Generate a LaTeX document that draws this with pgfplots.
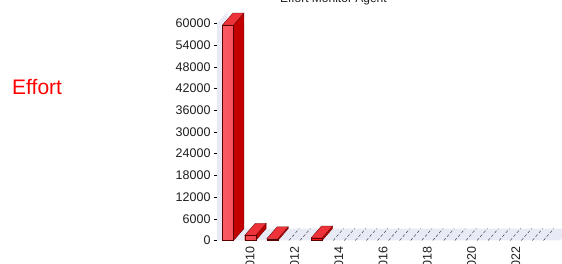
\documentclass[border=0pt]{standalone}
\usepackage{pgfplots}
\pgfplotsset{compat=1.18}
\usepackage{pgfplotstable}
\usepackage{fontspec}
\setmainfont{Liberation Sans}
\definecolor{floorc}{RGB}{232,234,246}
\definecolor{frontL}{RGB}{248,90,100}
\definecolor{frontM}{RGB}{252,30,36}
\definecolor{frontR}{RGB}{245,15,20}
\definecolor{sidec}{RGB}{195,0,0}
\definecolor{topc}{RGB}{238,50,58}
\definecolor{edgec}{RGB}{90,0,0}
\definecolor{labc}{RGB}{30,30,30}
\pgfplotstableread{
year value
2009 59600
2010 1400
2011 500
2012 0
2013 700
2014 0
2015 0
2016 0
2017 0
2018 0
2019 0
2020 0
2021 0
2022 0
2023 0
}\effort
\begin{document}
\begin{tikzpicture}
\useasboundingbox (0pt,0pt) rectangle (562pt,264pt);
\node[anchor=base west, text=red, font=\fontsize{21}{24}\selectfont, inner sep=0pt] at (12pt,169pt) {Effort};
\node[anchor=base west, text=labc, font=\fontsize{12}{14}\selectfont, inner sep=0pt] at (280pt,261.5pt) {Effort Monitor Agent};
\begin{axis}[
  at={(217pt,23.5pt)}, anchor=south west,
  scale only axis, width=343pt, height=217pt,
  xmin=2008.5, xmax=2024, ymin=0, ymax=60000,
  clip=false,
  axis y line*=left, axis x line*=bottom,
  x axis line style={draw=none},
  y axis line style={draw=gray, line width=0.4pt},
  xtick={2010,2012,...,2022},
  xticklabels={2010,2012,2014,2016,2018,2020,2022},
  xtick style={draw=none},
  xticklabel style={rotate=90, anchor=east, font=\fontsize{12.5}{14}\selectfont, text=labc},
  ytick={0,6000,...,60000},
  scaled y ticks=false,
  yticklabel style={/pgf/number format/1000 sep={}, /pgf/number format/assume math mode=true, font=\fontsize{12.5}{14}\selectfont, text=labc},
  ytick style={draw=black, line width=0.4pt},
  tick align=outside, major tick length=3pt,
]
% floor and left wall
\addplot[fill=floorc, draw=none] coordinates {(2008.5,0) (2024,0) (2024.47,3300) (2008.97,3300)} --cycle;
\addplot[fill=floorc, draw=none] coordinates {(2008.5,0) (2008.97,3300) (2008.97,63300) (2008.5,60000)} --cycle;
% flat (zero) bars outlines
\addplot[draw=black!80, densely dashed, line width=0.4pt, unbounded coords=jump] coordinates {
(2011.75,0) (2012.22,3300) (2012,nan) (2012.25,0) (2012.72,3300) (2012,nan)
(2013.75,0) (2014.22,3300) (2014,nan) (2014.25,0) (2014.72,3300) (2014,nan)
(2014.75,0) (2015.22,3300) (2015,nan) (2015.25,0) (2015.72,3300) (2015,nan)
(2015.75,0) (2016.22,3300) (2016,nan) (2016.25,0) (2016.72,3300) (2016,nan)
(2016.75,0) (2017.22,3300) (2017,nan) (2017.25,0) (2017.72,3300) (2017,nan)
(2017.75,0) (2018.22,3300) (2018,nan) (2018.25,0) (2018.72,3300) (2018,nan)
(2018.75,0) (2019.22,3300) (2019,nan) (2019.25,0) (2019.72,3300) (2019,nan)
(2019.75,0) (2020.22,3300) (2020,nan) (2020.25,0) (2020.72,3300) (2020,nan)
(2020.75,0) (2021.22,3300) (2021,nan) (2021.25,0) (2021.72,3300) (2021,nan)
(2021.75,0) (2022.22,3300) (2022,nan) (2022.25,0) (2022.72,3300) (2022,nan)
(2022.75,0) (2023.22,3300) (2023,nan) (2023.25,0) (2023.72,3300)
};
% side faces
\addplot[fill=sidec, draw=edgec, line width=0.3pt] coordinates {(2009.25,0) (2009.72,3300) (2009.72,62900) (2009.25,59600)} --cycle;
\addplot[fill=sidec, draw=edgec, line width=0.3pt] coordinates {(2010.25,0) (2010.72,3300) (2010.72,4700) (2010.25,1400)} --cycle;
\addplot[fill=sidec, draw=edgec, line width=0.3pt] coordinates {(2011.25,0) (2011.72,3300) (2011.72,3800) (2011.25,500)} --cycle;
\addplot[fill=sidec, draw=edgec, line width=0.3pt] coordinates {(2013.25,0) (2013.72,3300) (2013.72,4000) (2013.25,700)} --cycle;
% top faces
\addplot[fill=topc, draw=edgec, line width=0.3pt] coordinates {(2008.75,59600) (2009.25,59600) (2009.72,62900) (2009.22,62900)} --cycle;
\addplot[fill=topc, draw=edgec, line width=0.3pt] coordinates {(2009.75,1400) (2010.25,1400) (2010.72,4700) (2010.22,4700)} --cycle;
\addplot[fill=topc, draw=edgec, line width=0.3pt] coordinates {(2010.75,500) (2011.25,500) (2011.72,3800) (2011.22,3800)} --cycle;
\addplot[fill=topc, draw=edgec, line width=0.3pt] coordinates {(2012.75,700) (2013.25,700) (2013.72,4000) (2013.22,4000)} --cycle;
% front faces
\addplot[ybar, bar width=0.5, bar shift=0pt, left color=frontL, middle color=frontM, right color=frontR, draw=edgec, line width=0.3pt,
  y filter/.expression={y==0 ? nan : y}, unbounded coords=discard] table[x=year, y=value] {\effort};
\end{axis}
\end{tikzpicture}
\end{document}
